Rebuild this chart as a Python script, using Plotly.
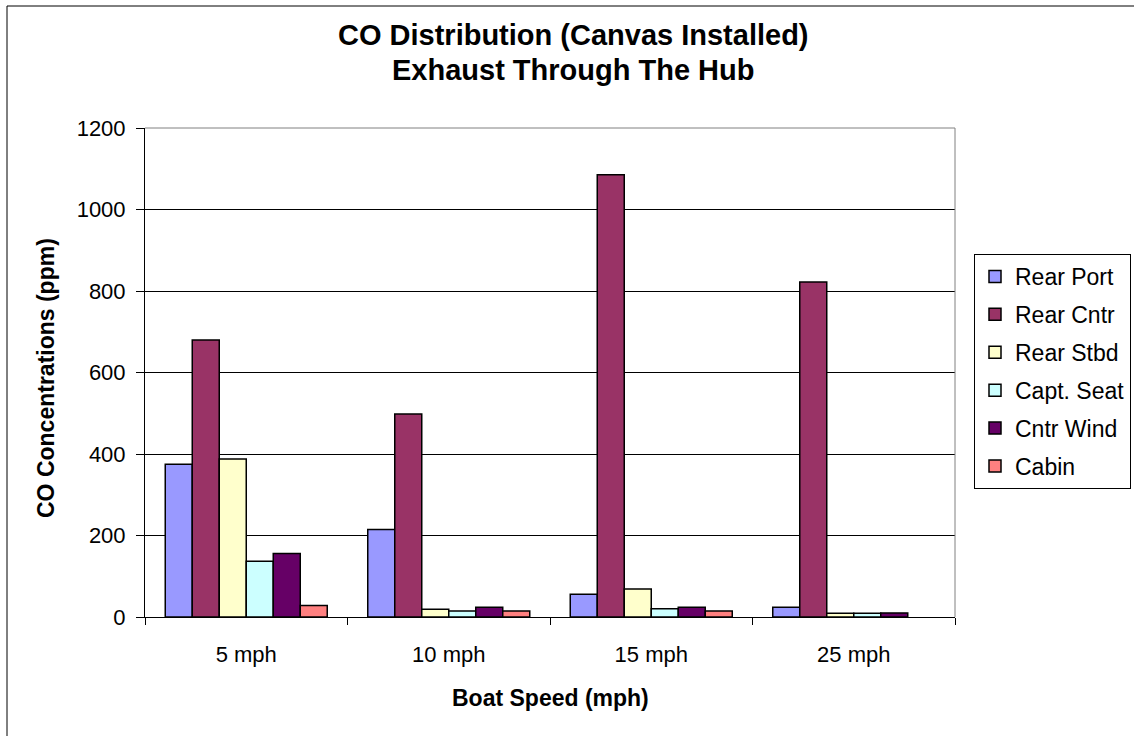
import plotly.graph_objects as go

# Boat speeds on the category axis
speeds = ["5 mph", "10 mph", "15 mph", "25 mph"]

# CO concentration (ppm) at each sampling location
rear_port = [375, 215, 56, 24]
rear_cntr = [680, 498, 1085, 822]
rear_stbd = [388, 19, 69, 9]
capt_seat = [137, 15, 20, 9]
cntr_wind = [156, 24, 24, 10]
cabin = [28, 15, 15, None]

series = [
    ("Rear Port", rear_port, "#9999FF"),
    ("Rear Cntr", rear_cntr, "#993366"),
    ("Rear Stbd", rear_stbd, "#FFFFCC"),
    ("Capt. Seat", capt_seat, "#CCFFFF"),
    ("Cntr Wind", cntr_wind, "#660066"),
    ("Cabin", cabin, "#FF8080"),
]

FONT = "Arial, 'Liberation Sans', sans-serif"

fig = go.Figure()
for name, vals, color in series:
    fig.add_trace(go.Bar(
        x=speeds, y=vals, name=name, legendgroup=name,
        marker=dict(color=color, line=dict(color="#000000", width=1.5)),
    ))

W, H = 1134, 736
L, R, T, B = 145, 179, 128, 119
pw, ph = W - L - R, H - T - B


def px(x):
    return (x - L) / pw


def py(y):
    return (H - B - y) / ph


fig.update_layout(
    width=W, height=H, autosize=False,
    margin=dict(l=L, r=R, t=T, b=B, pad=0, autoexpand=False),
    paper_bgcolor="white", plot_bgcolor="white",
    font=dict(family=FONT, color="#000000", size=22),
    bargap=0.2, bargroupgap=0,
    showlegend=True,
    legend=dict(
        x=px(974), y=py(254), xanchor="left", yanchor="top",
        bordercolor="#000000", borderwidth=1, bgcolor="white",
        font=dict(family=FONT, size=23, color="#000000"),
        traceorder="grouped", tracegroupgap=5,
    ),
    xaxis=dict(
        type="category", tickson="boundaries", ticks="outside", ticklen=7,
        tickcolor="#000000", showline=True, linecolor="#000000", linewidth=1,
        showgrid=False, tickfont=dict(size=22), ticklabelstandoff=18,
    ),
    yaxis=dict(
        range=[0, 1200], tick0=0, dtick=200, ticks="outside", ticklen=8,
        tickcolor="#000000", showline=True, linecolor="#000000", linewidth=1,
        showgrid=True, gridcolor="#000000", gridwidth=1, zeroline=False,
        tickfont=dict(size=22), ticklabelstandoff=6,
    ),
    annotations=[
        dict(text="<b>CO Distribution (Canvas Installed)</b>", x=px(573), y=py(35),
             xref="paper", yref="paper", xanchor="center", yanchor="middle",
             showarrow=False, font=dict(size=29)),
        dict(text="<b>Exhaust Through The Hub</b>", x=px(573), y=py(70),
             xref="paper", yref="paper", xanchor="center", yanchor="middle",
             showarrow=False, font=dict(size=29)),
        dict(text="<b>Boat Speed (mph)</b>", x=0.5, y=py(698),
             xref="paper", yref="paper", xanchor="center", yanchor="middle",
             showarrow=False, font=dict(size=23)),
        dict(text="<b>CO Concentrations (ppm)</b>", x=px(46), y=py(378),
             xref="paper", yref="paper", xanchor="center", yanchor="middle",
             textangle=-90, showarrow=False, font=dict(size=23)),
    ],
    shapes=[
        # grey plot-area frame on the top and right edges
        dict(type="line", xref="paper", yref="paper", x0=0, y0=1, x1=1, y1=1,
             line=dict(color="#808080", width=1), layer="above"),
        dict(type="line", xref="paper", yref="paper", x0=1, y0=0, x1=1, y1=1,
             line=dict(color="#808080", width=1), layer="above"),
        # outer chart border
        dict(type="line", xref="paper", yref="paper", x0=px(7), y0=py(6),
             x1=px(1160), y1=py(6), line=dict(color="#000000", width=1)),
        dict(type="line", xref="paper", yref="paper", x0=px(7), y0=py(6),
             x1=px(7), y1=py(760), line=dict(color="#000000", width=1)),
    ],
)

fig.write_html("out.html")
